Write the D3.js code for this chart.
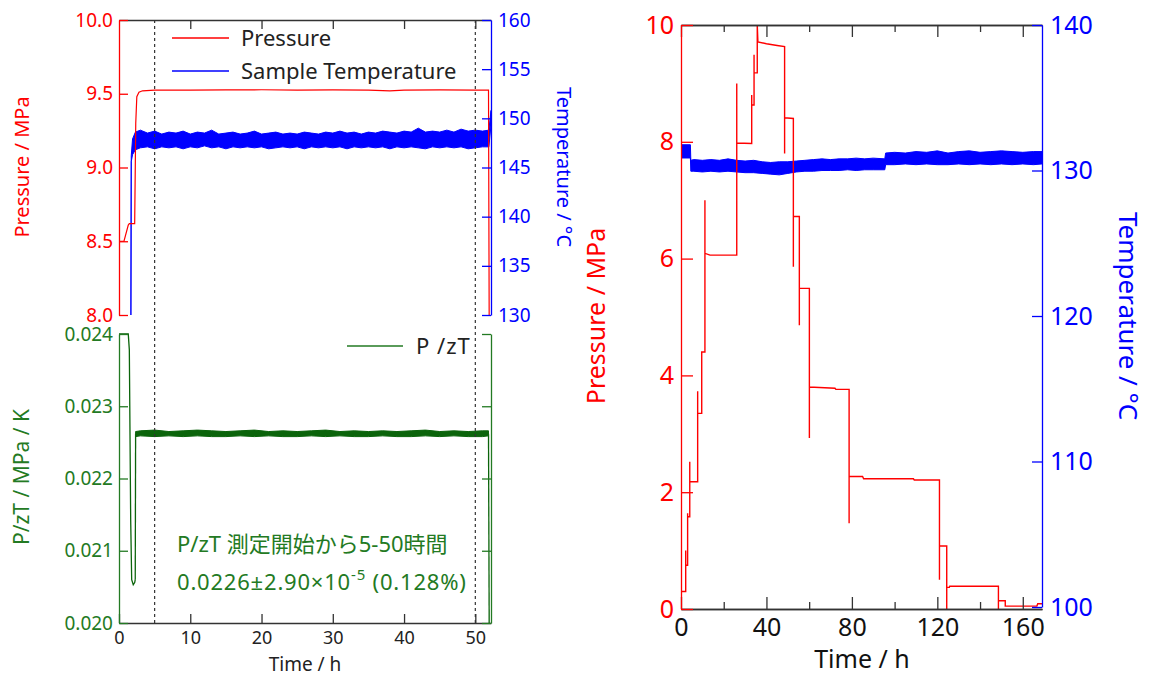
<!DOCTYPE html>
<html>
<head>
<meta charset="utf-8">
<script src="https://cdn.jsdelivr.net/npm/d3@7"></script>
<style>
  body { margin: 0; background: #fff; }
  svg { font-family: "Noto Sans", "Noto Sans CJK JP", sans-serif; }
</style>
</head>
<body>
<svg id="chart" width="1154" height="677"></svg>
<script>
// ---- left panel (0-52 h) ----
// pressure, MPa
const pLeftTime = [0, 0.7, 1.3, 1.45, 2.2, 2.35, 2.5, 2.8, 3.3, 5, 10, 15, 20, 25, 30, 35, 38, 40, 45, 50, 51.85, 51.95];
const pLeftVal  = [8.5, 8.5, 8.61, 8.62, 8.62, 9.3, 9.48, 9.51, 9.52, 9.525, 9.524, 9.526, 9.527, 9.525, 9.526, 9.524, 9.52, 9.525, 9.526, 9.525, 9.524, 7.9];

// sample temperature, noise band (low / high envelope), degC
const tLeftTime = [1.66, 1.72, 1.9, 2.3, 3, 4, 5, 6, 7, 8, 9, 10, 11, 12, 13, 14, 15, 16, 17, 18, 19, 20, 21, 22, 23, 24, 25, 26,
  27, 28, 29, 30, 31, 32, 33, 34, 35, 36, 37, 38, 39, 40, 41, 42, 43, 44, 45, 46, 47, 48, 49, 50, 51, 51.9, 52.2];
const tLeftLo = [127, 145.6, 146.3, 146.8, 147.0, 147.1, 146.9, 147.1, 147.0, 147.1, 146.9, 147.1, 147.0, 147.2, 147.0, 147.1, 146.9, 147.1, 147.0, 147.1,
  147.0, 147.1, 146.9, 147.0, 147.1, 147.0, 147.1, 146.9, 147.1, 147.0, 147.1, 147.0, 147.1, 146.9, 147.1, 147.0, 147.1, 147.0, 147.1, 146.9,
  147.1, 147.0, 147.1, 147.0, 146.9, 147.1, 147.0, 147.1, 147.0, 147.1, 146.9, 147.0, 147.1, 147.1, 149.3];
const tLeftHi = [127, 146.2, 147.9, 148.6, 148.8, 148.5, 148.7, 148.4, 148.6, 148.5, 148.7, 148.4, 148.6, 148.5, 148.8, 148.4, 148.5, 148.6, 148.4, 148.5,
  148.7, 148.4, 148.5, 148.6, 148.4, 148.5, 148.4, 148.6, 148.5, 148.4, 148.6, 148.5, 148.7, 148.5, 148.6, 148.4, 148.6, 148.5, 148.7, 148.6,
  148.5, 148.7, 148.6, 149.0, 148.6, 148.7, 148.6, 148.8, 148.6, 148.9, 148.7, 148.8, 148.7, 148.8, 150.8];

// P/zT, MPa/K
const gLeftTime = [0, 1.3, 1.45, 1.64, 1.78, 2.0, 2.2, 2.28];
const gLeftVal  = [0.0240, 0.0240, 0.02378, 0.02143, 0.0206, 0.02053, 0.02056, 0.0206];
const gBandTime = [2.33, 3, 5, 7, 9, 11, 13, 15, 17, 19, 21, 23, 25, 27, 29, 31, 33, 35, 37, 39, 41, 43, 45, 47, 49, 51, 51.85];
const gBandLo = [0.02258, 0.02259, 0.02258, 0.02259, 0.02258, 0.02259, 0.02258, 0.02258, 0.02259, 0.02258, 0.02259, 0.02258, 0.02258, 0.02259,
  0.02258, 0.02259, 0.02258, 0.02258, 0.02259, 0.02258, 0.02258, 0.02259, 0.02258, 0.02259, 0.02258, 0.02258, 0.02259];
const gBandHi = [0.02265, 0.02266, 0.02267, 0.02265, 0.02266, 0.02267, 0.02266, 0.02265, 0.02266, 0.02267, 0.02265, 0.02266, 0.02265, 0.02266,
  0.02267, 0.02265, 0.02266, 0.02265, 0.02266, 0.02265, 0.02266, 0.02267, 0.02265, 0.02266, 0.02265, 0.02266, 0.02266];
const gEndTime = [51.85, 51.95];
const gEndVal  = [0.02262, 0.0199];

const xTicksLeft = [0, 10, 20, 30, 40, 50];
const pTicksLeft = [8.0, 8.5, 9.0, 9.5, 10.0];
const tTicksLeft = [130, 135, 140, 145, 150, 155, 160];
const gTicksLeft = [0.020, 0.021, 0.022, 0.023, 0.024];
const dashTimes = [5, 50];

// ---- right panel (0-169 h) ----
const pRightTime = [0, 2.2, 2.2, 2.2, 3.1, 3.1, 3.1, 4.1, 4.1, 4.1, 7.8, 7.8, 7.8, 9.7, 9.7, 11.2, 11.2, 11.2, 13.6, 26.1, 26.1, 26.1,
  33.1, 33.1, 33.1, 34.2, 34.2, 34.2, 35.7, 35.7, 36.0, 40, 45, 48.5, 48.5, 48.5, 52.6, 52.6, 52.6, 55.4, 55.4, 55.4,
  60.1, 60.1, 60.1, 72.1, 72.5, 78.7, 78.7, 78.7, 85, 85.5, 108.8, 109.2, 121, 121, 121, 124.4, 124.4, 124.4,
  125.6, 125.8, 148.6, 148.6, 148.6, 151.8, 151.8, 166.6, 167, 169];
const pRightVal = [0.30, 0.30, 1.00, 0.75, 0.75, 1.64, 1.58, 1.58, 2.52, 2.18, 2.18, 3.73, 3.35, 3.35, 4.40, 4.40, 7.00, 6.09, 6.06, 6.06, 9.00, 7.98,
  7.97, 8.80, 8.63, 8.63, 9.49, 9.18, 9.18, 10.0, 9.71, 9.68, 9.65, 9.63, 7.80, 8.41, 8.40, 5.86, 6.72, 6.72, 4.86, 5.49,
  5.49, 2.93, 3.80, 3.78, 3.76, 3.76, 1.47, 2.27, 2.27, 2.23, 2.23, 2.21, 2.21, 0.50, 1.08, 1.08, 0.0, 0.37,
  0.37, 0.39, 0.39, 0.0, 0.14, 0.14, 0.05, 0.05, 0.09, 0.09];

const tRightTime = [0, 4.4, 4.6, 6, 10, 14, 18, 22, 26, 30, 34, 38, 42, 46, 50, 54, 58, 62, 66, 70, 74, 78, 82, 86, 90, 95.4,
  95.8, 100, 105, 110, 115, 120, 125, 130, 135, 140, 145, 150, 155, 160, 165, 169];
const tRightLo = [130.86, 130.86, 129.95, 129.95, 129.9, 129.95, 129.9, 129.95, 129.9, 129.85, 129.85, 129.8, 129.75, 129.7, 129.8, 129.9,
  129.95, 129.95, 130.0, 130.0, 130.0, 130.05, 130.0, 130.05, 130.05, 130.05,
  130.4, 130.4, 130.45, 130.4, 130.45, 130.4, 130.4, 130.45, 130.4, 130.45, 130.4, 130.45, 130.4, 130.45, 130.4, 130.45];
const tRightHi = [131.77, 131.77, 130.7, 130.75, 130.7, 130.75, 130.7, 130.8, 130.7, 130.65, 130.7, 130.6, 130.55, 130.6, 130.6, 130.65,
  130.7, 130.75, 130.8, 130.75, 130.8, 130.8, 130.85, 130.8, 130.85, 130.8,
  131.2, 131.25, 131.2, 131.3, 131.25, 131.35, 131.2, 131.3, 131.35, 131.25, 131.3, 131.35, 131.3, 131.25, 131.3, 131.3];

const xTicksRight = [0, 40, 80, 120, 160];
const xMinorRight = [20, 60, 100, 140];
const pTicksRight = [0, 2, 4, 6, 8, 10];
const tTicksRight = [100, 110, 120, 130, 140];

const RED = "#ff0000", BLUE = "#0000ff", GREEN = "#237a23", GREEN_DATA = "#0b640b", INK = "#222";

const svg = d3.select("#chart");

function zip2(a, b) { return a.map((v, i) => [v, b[i]]); }
function zip3(a, b, c) { return a.map((v, i) => [v, b[i], c[i]]); }

function clip(id, x, y, w, h) {
  svg.append("clipPath").attr("id", id).append("rect")
    .attr("x", x).attr("y", y).attr("width", w).attr("height", h);
  return `url(#${id})`;
}

function styleAxis(g, color, fontSize, textColor) {
  g.select(".domain").attr("stroke", color).attr("stroke-width", 1.3);
  g.selectAll(".tick line").attr("stroke", color).attr("stroke-width", 1.3);
  g.selectAll(".tick text").attr("fill", textColor || color)
    .attr("font-size", fontSize).attr("font-family", null);
  g.attr("font-family", null);
}

// ================= LEFT PANEL =================
const xL = d3.scaleLinear().domain([0, 52.2]).range([119, 491]);
const pL = d3.scaleLinear().domain([8, 10]).range([315, 20]);
const tL = d3.scaleLinear().domain([130, 160]).range([315, 20]);
const gL = d3.scaleLinear().domain([0.020, 0.024]).range([623, 334]);

const clipTop = clip("clipTop", 119, 20, 372, 295);
const clipBot = clip("clipBot", 119, 333, 372, 290);

// temperature band
svg.append("path")
  .datum(zip3(tLeftTime, tLeftLo, tLeftHi))
  .attr("clip-path", clipTop)
  .attr("fill", BLUE).attr("stroke", BLUE).attr("stroke-width", 1)
  .attr("d", d3.area().x(d => xL(d[0])).y0(d => tL(d[1])).y1(d => tL(d[2])));

// pressure line
svg.append("path")
  .datum(zip2(pLeftTime, pLeftVal))
  .attr("clip-path", clipTop)
  .attr("fill", "none").attr("stroke", RED).attr("stroke-width", 1.2)
  .attr("d", d3.line().x(d => xL(d[0])).y(d => pL(d[1])));

// P/zT
const gLine = d3.line().x(d => xL(d[0])).y(d => gL(d[1]));
svg.append("path").datum(zip2(gLeftTime, gLeftVal))
  .attr("fill", "none").attr("stroke", GREEN_DATA).attr("stroke-width", 1.3).attr("d", gLine);
svg.append("path")
  .datum(zip3(gBandTime, gBandLo, gBandHi))
  .attr("fill", GREEN_DATA).attr("stroke", GREEN_DATA).attr("stroke-width", 1)
  .attr("d", d3.area().x(d => xL(d[0])).y0(d => gL(d[1])).y1(d => gL(d[2])));
svg.append("path").datum([[2.28, 0.0206], [2.33, 0.02262]])
  .attr("fill", "none").attr("stroke", GREEN_DATA).attr("stroke-width", 1.3).attr("d", gLine);
svg.append("path").datum(zip2(gEndTime, gEndVal))
  .attr("clip-path", clipBot)
  .attr("fill", "none").attr("stroke", GREEN_DATA).attr("stroke-width", 1.3).attr("d", gLine);

// dashed markers
svg.selectAll(".dash").data(dashTimes).join("line")
  .attr("x1", d => xL(d)).attr("x2", d => xL(d))
  .attr("y1", 20).attr("y2", 623)
  .attr("stroke", "#333").attr("stroke-width", 1.2).attr("stroke-dasharray", "3,3");

// axes: top plot
svg.append("g").attr("transform", "translate(0,20)")
  .call(d3.axisTop(xL).tickValues(xTicksLeft.slice(1)).tickSize(-9).tickSizeOuter(0).tickFormat(""))
  .call(g => styleAxis(g, "#333", 18));
svg.append("g").attr("transform", "translate(119,0)")
  .call(d3.axisLeft(pL).tickValues(pTicksLeft).tickSize(-9).tickSizeOuter(0).tickPadding(6).tickFormat(d3.format(".1f")))
  .call(g => styleAxis(g, RED, 19));
svg.append("g").attr("transform", "translate(491,0)")
  .call(d3.axisRight(tL).tickValues(tTicksLeft).tickSize(-9).tickSizeOuter(0).tickPadding(7))
  .call(g => styleAxis(g, BLUE, 19));

// axes: bottom plot
svg.append("g").attr("transform", "translate(0,623)")
  .call(d3.axisBottom(xL).tickValues(xTicksLeft).tickSize(-9).tickSizeOuter(0).tickPadding(8))
  .call(g => styleAxis(g, "#333", 18, INK));
svg.append("g").attr("transform", "translate(119,0)")
  .call(d3.axisLeft(gL).tickValues(gTicksLeft).tickSize(-9).tickSizeOuter(0).tickPadding(6).tickFormat(d3.format(".3f")))
  .call(g => styleAxis(g, GREEN, 19));
svg.append("g").attr("transform", "translate(491,0)")
  .call(d3.axisRight(gL).tickValues(gTicksLeft).tickSize(-9).tickSizeOuter(0).tickFormat(""))
  .call(g => styleAxis(g, GREEN, 19));

// axis titles
svg.append("text").attr("transform", "translate(29,167) rotate(-90)")
  .attr("text-anchor", "middle").attr("fill", RED).attr("font-size", 20).text("Pressure / MPa");
svg.append("text").attr("transform", "translate(557,167) rotate(90)")
  .attr("text-anchor", "middle").attr("fill", BLUE).attr("font-size", 20).text("Temperature / °C");
svg.append("text").attr("transform", "translate(29,477) rotate(-90)")
  .attr("text-anchor", "middle").attr("fill", GREEN).attr("font-size", 21).text("P/zT / MPa / K");
svg.append("text").attr("x", 305).attr("y", 671)
  .attr("text-anchor", "middle").attr("fill", INK).attr("font-size", 19).text("Time / h");

// legends
const legTop = [
  { label: "Pressure", color: RED, y: 38 },
  { label: "Sample Temperature", color: BLUE, y: 71 }
];
legTop.forEach(d => {
  svg.append("line").attr("x1", 172).attr("x2", 229).attr("y1", d.y).attr("y2", d.y)
    .attr("stroke", d.color).attr("stroke-width", 1.3);
  svg.append("text").attr("x", 241).attr("y", d.y).attr("dy", "0.35em")
    .attr("fill", INK).attr("font-size", 22).text(d.label);
});
svg.append("line").attr("x1", 347).attr("x2", 403).attr("y1", 346).attr("y2", 346)
  .attr("stroke", GREEN).attr("stroke-width", 1.3);
svg.append("text").attr("x", 416).attr("y", 346).attr("dy", "0.35em")
  .attr("fill", INK).attr("font-size", 22).attr("letter-spacing", 1).text("P /zT");

// annotation
svg.append("text").attr("x", 177).attr("y", 552)
  .attr("fill", GREEN).attr("font-size", 22).text("P/zT 測定開始から5-50時間");
const note = svg.append("text").attr("x", 177).attr("y", 590)
  .attr("fill", GREEN).attr("font-size", 22).attr("letter-spacing", 0.8);
note.append("tspan").text("0.0226±2.90×10");
note.append("tspan").attr("dy", -10).attr("font-size", 15).text("-5");
note.append("tspan").attr("dy", 10).text(" (0.128%)");

// ================= RIGHT PANEL =================
const xR = d3.scaleLinear().domain([0, 169]).range([681, 1042]);
const pR = d3.scaleLinear().domain([0, 10]).range([609, 25]);
const tR = d3.scaleLinear().domain([100, 140]).range([607, 25]);
const clipR = clip("clipR", 681, 24, 361, 586);

svg.append("path")
  .datum(zip3(tRightTime, tRightLo, tRightHi))
  .attr("clip-path", clipR)
  .attr("fill", BLUE).attr("stroke", BLUE).attr("stroke-width", 1)
  .attr("d", d3.area().x(d => xR(d[0])).y0(d => tR(d[1])).y1(d => tR(d[2])));

svg.append("path")
  .datum(zip2(pRightTime, pRightVal))
  .attr("clip-path", clipR)
  .attr("fill", "none").attr("stroke", RED).attr("stroke-width", 1.4)
  .attr("d", d3.line().x(d => xR(d[0])).y(d => pR(d[1])));

// x axes (top border + bottom)
[[25, d3.axisTop], [609, d3.axisBottom]].forEach(([y, ax]) => {
  svg.append("g").attr("transform", `translate(0,${y})`)
    .call(ax(xR).tickValues(xMinorRight).tickSize(-7).tickSizeOuter(0).tickFormat(""))
    .call(g => styleAxis(g, "#333", 25));
  const major = ax(xR).tickValues(xTicksRight).tickSize(-12).tickSizeOuter(0).tickPadding(9);
  if (y === 25) major.tickFormat("");
  svg.append("g").attr("transform", `translate(0,${y})`)
    .call(major)
    .call(g => styleAxis(g, "#333", 25, "#111"));
});
svg.append("g").attr("transform", "translate(681,0)")
  .call(d3.axisLeft(pR).tickValues(pTicksRight).tickSize(-12).tickSizeOuter(0).tickPadding(7))
  .call(g => styleAxis(g, RED, 25));
svg.append("g").attr("transform", "translate(1042,0)")
  .call(d3.axisRight(tR).tickValues(tTicksRight).tickSize(-10).tickSizeOuter(0).tickPadding(8))
  .call(g => styleAxis(g, BLUE, 25));

svg.append("text").attr("transform", "translate(605,316) rotate(-90)")
  .attr("text-anchor", "middle").attr("fill", RED).attr("font-size", 25).text("Pressure / MPa");
svg.append("text").attr("transform", "translate(1119,316) rotate(90)")
  .attr("text-anchor", "middle").attr("fill", BLUE).attr("font-size", 26).text("Temperature / °C");
svg.append("text").attr("x", 862).attr("y", 668)
  .attr("text-anchor", "middle").attr("fill", "#111").attr("font-size", 25).text("Time / h");
</script>
</body>
</html>
